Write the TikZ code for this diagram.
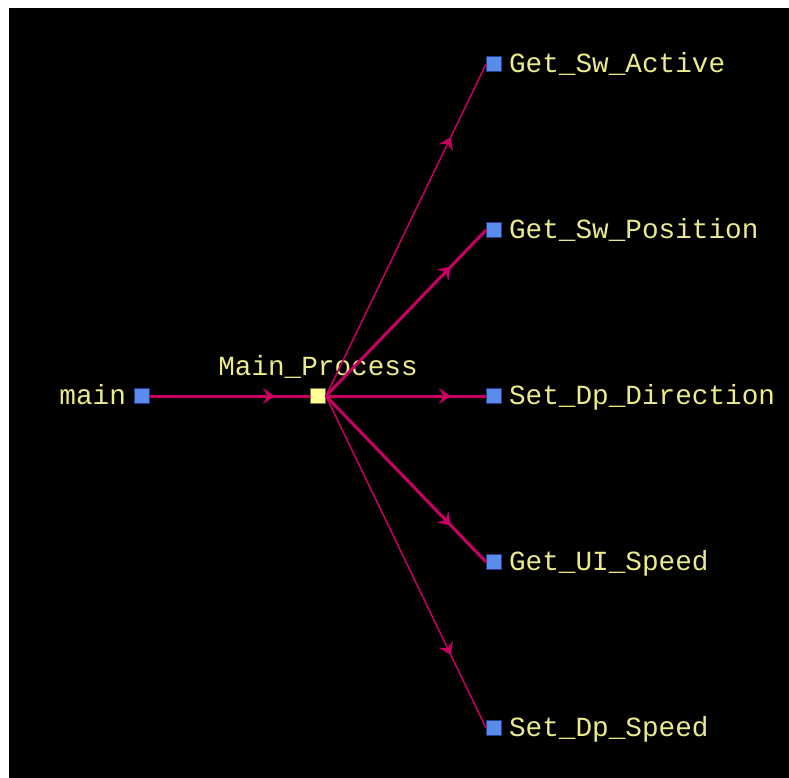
\documentclass[tikz,border=0pt]{standalone}
\usepackage{fontspec}
\newfontfamily\codefont{Liberation Mono}
\usetikzlibrary{positioning,arrows.meta,decorations.markings}

\definecolor{callred}{RGB}{200,0,100}
\definecolor{fnblue}{RGB}{90,140,235}
\definecolor{fnedge}{RGB}{40,60,140}
\definecolor{mpyellow}{RGB}{255,255,150}
\definecolor{mpedge}{RGB}{120,120,60}
\definecolor{txtyellow}{RGB}{235,235,140}

\tikzstyle{func} = [rectangle, draw=fnedge, fill=fnblue, minimum size=15pt, inner sep=0pt, line width=0.8pt]
\tikzstyle{proc} = [func, draw=mpedge, fill=mpyellow]
\tikzstyle{fname} = [text=txtyellow, font=\codefont\fontsize{27.7}{27.7}\selectfont, inner sep=0pt, text height=17pt, text depth=0pt]
\tikzstyle{call} = [draw=callred, line width=3pt, postaction={decorate},
    decoration={markings, mark=at position 0.78 with {\arrow{Stealth[length=12pt,width=16pt,inset=4.5pt]}}}]
\tikzstyle{thincall} = [call, line width=1.5pt]

\begin{document}
\begin{tikzpicture}[x=1pt, y=-1pt]
\fill[white] (0,0) rectangle (789,778);
\fill[black] (9,8) rectangle (789,778);

\node[func] (main) at (142,396) {};
\node[proc] (mainproc) at (318,396) {};
\node[func] (gswact) at (494,64) {};
\node[func] (gswpos) at (494,230) {};
\node[func] (sdpdir) at (494,396) {};
\node[func] (guispd) at (494,562) {};
\node[func] (sdpspd) at (494,728) {};

\node[fname, left=8pt of main] (main-t) {main};
\node[fname, above=12pt of mainproc] (mainproc-t) {Main\_Process};
\node[fname, right=7pt of gswact] (gswact-t) {Get\_Sw\_Active};
\node[fname, right=7pt of gswpos] (gswpos-t) {Get\_Sw\_Position};
\node[fname, right=7pt of sdpdir] (sdpdir-t) {Set\_Dp\_Direction};
\node[fname, right=7pt of guispd] (guispd-t) {Get\_UI\_Speed};
\node[fname, right=7pt of sdpspd] (sdpspd-t) {Set\_Dp\_Speed};

\draw[call] (main.east) -- (mainproc.west);
\draw[thincall] (mainproc.east) -- (gswact.west);
\draw[call] (mainproc.east) -- (gswpos.west);
\draw[call] (mainproc.east) -- (sdpdir.west);
\draw[call] (mainproc.east) -- (guispd.west);
\draw[thincall] (mainproc.east) -- (sdpspd.west);
\end{tikzpicture}
\end{document}
